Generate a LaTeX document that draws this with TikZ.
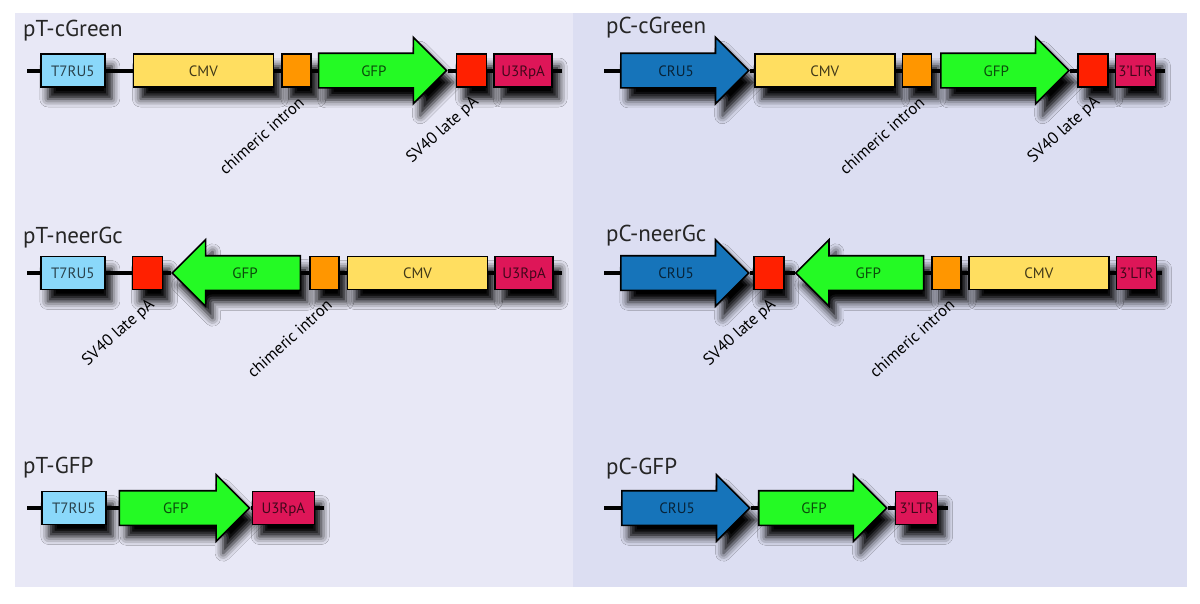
\documentclass[tikz,border=0pt]{standalone}
\usepackage{fontspec}
\setmainfont{PT Sans}
\usetikzlibrary{positioning}
\usetikzlibrary{shapes.arrows}
\usetikzlibrary{shadows.blur}
\definecolor{panelL}{RGB}{232,232,246}
\definecolor{panelR}{RGB}{220,222,242}
\definecolor{t7blue}{RGB}{138,216,250}
\definecolor{cmvyellow}{RGB}{255,222,96}
\definecolor{intronorange}{RGB}{255,150,0}
\definecolor{gfpgreen}{RGB}{36,250,36}
\definecolor{pared}{RGB}{255,32,0}
\definecolor{ltrpink}{RGB}{222,22,88}
\definecolor{crublue}{RGB}{22,116,186}

\begin{document}
\begin{tikzpicture}[x=1pt, y=1pt,
feat/.style={draw=black, line width=1.6pt, inner sep=0pt, text height=11pt, text depth=0pt, font=\fontsize{15}{15}\selectfont, blur shadow={shadow xshift=7pt, shadow yshift=-12pt, shadow blur radius=8pt, shadow opacity=100}},
box/.style={feat, rectangle, minimum height=33pt},
t7box/.style={box, fill=t7blue, text=t7blue!30!black, minimum width=64pt},
cmvbox/.style={box, fill=cmvyellow, text=cmvyellow!25!black, minimum width=140pt},
intronbox/.style={box, fill=intronorange, minimum width=29pt},
pabox/.style={box, fill=pared, minimum width=30pt},
u3box/.style={box, fill=ltrpink, text=ltrpink!30!black, minimum width=58pt},
ltrbox/.style={box, fill=ltrpink, text=ltrpink!30!black, minimum width=40pt},
arrowbox/.style={feat, single arrow, single arrow head extend=16pt, single arrow head indent=0pt, inner ysep=11pt, inner xsep=3pt, minimum height=128pt},
gfparrow/.style={arrowbox, fill=gfpgreen, text=gfpgreen!30!black},
gfpback/.style={gfparrow, shape border rotate=180},
cruarrow/.style={arrowbox, fill=crublue, text=crublue!30!black},
dna/.style={draw=black, line width=4pt},
lbl/.style={inner sep=0pt, font=\fontsize{16.5}{16.5}\selectfont, rotate=42, anchor=east},
ttl/.style={inner sep=0pt, anchor=base west, font=\fontsize{23}{23}\selectfont, text=black!85},
]
\useasboundingbox (0,0) rectangle (1200,-603);
\fill[white] (0,0) rectangle (1200,-603);
\fill[panelL] (15,-13) rectangle (573,-587);
\fill[panelR] (573,-13) rectangle (1187,-587);

\node[ttl](n1) at (23,-36) {pT-cGreen};
\coordinate (s1) at (27,-70.5);
\coordinate (e1) at (562,-70.5);
\node[t7box, anchor=west](t1) at (40,-70.5) {T7RU5};
\node[cmvbox](c1)[right=27pt of t1] {CMV};
\node[intronbox](i1)[right=7pt of c1] {};
\node[gfparrow](g1)[right=6pt of i1, anchor=tail] {GFP};
\node[pabox](p1)[right=8pt of g1.tip] {};
\node[u3box](u1)[right=6pt of p1] {U3RpA};
\node[lbl] (l1a) at ([xshift=5pt, yshift=-12pt]i1.south) {chimeric intron};
\node[lbl] (l1b) at ([xshift=5pt, yshift=-12pt]p1.south) {SV40 late pA};
\foreach \a/\b in {s1/t1.west, t1.east/c1.west, c1.east/i1.west, i1.east/g1.tail, g1.tip/p1.west, p1.east/u1.west, u1.east/e1}
  \draw[dna] (\a) -- (\b);

\node[ttl](n2) at (606,-33) {pC-cGreen};
\coordinate (s2) at (604,-70.5);
\coordinate (e2) at (1165,-70.5);
\node[cruarrow, anchor=tail](r2) at (620,-70.5) {CRU5};
\node[cmvbox](c2)[right=4pt of r2.tip] {CMV};
\node[intronbox](i2)[right=6pt of c2] {};
\node[gfparrow](g2)[right=8pt of i2, anchor=tail] {GFP};
\node[pabox](p2)[right=7pt of g2.tip] {};
\node[ltrbox](u2)[right=6pt of p2] {3'LTR};
\node[lbl] (l2a) at ([xshift=5pt, yshift=-12pt]i2.south) {chimeric intron};
\node[lbl] (l2b) at ([xshift=5pt, yshift=-12pt]p2.south) {SV40 late pA};
\foreach \a/\b in {s2/r2.tail, r2.tip/c2.west, c2.east/i2.west, i2.east/g2.tail, g2.tip/p2.west, p2.east/u2.west, u2.east/e2}
  \draw[dna] (\a) -- (\b);

\node[ttl](n3) at (23,-243) {pT-neerGc};
\coordinate (s3) at (27,-273);
\coordinate (e3) at (562,-273);
\node[t7box, anchor=west](t3) at (40,-273) {T7RU5};
\node[pabox](p3)[right=26pt of t3] {};
\node[gfpback](g3)[right=8pt of p3, anchor=tip] {GFP};
\node[intronbox](i3)[right=8pt of g3.tail] {};
\node[cmvbox](c3)[right=7pt of i3] {CMV};
\node[u3box](u3)[right=6pt of c3] {U3RpA};
\node[lbl] (l3a) at ([xshift=5pt, yshift=-12pt]p3.south) {SV40 late pA};
\node[lbl] (l3b) at ([xshift=5pt, yshift=-12pt]i3.south) {chimeric intron};
\foreach \a/\b in {s3/t3.west, t3.east/p3.west, p3.east/g3.tip, g3.tail/i3.west, i3.east/c3.west, c3.east/u3.west, u3.east/e3}
  \draw[dna] (\a) -- (\b);

\node[ttl](n4) at (606,-241) {pC-neerGc};
\coordinate (s4) at (604,-273);
\coordinate (e4) at (1162,-273);
\node[cruarrow, anchor=tail](r4) at (620,-273) {CRU5};
\node[pabox](p4)[right=3pt of r4.tip] {};
\node[gfpback](g4)[right=10pt of p4, anchor=tip] {GFP};
\node[intronbox](i4)[right=7pt of g4.tail] {};
\node[cmvbox](c4)[right=6pt of i4] {CMV};
\node[ltrbox](u4)[right=6pt of c4] {3'LTR};
\node[lbl] (l4a) at ([xshift=5pt, yshift=-12pt]p4.south) {SV40 late pA};
\node[lbl] (l4b) at ([xshift=5pt, yshift=-12pt]i4.south) {chimeric intron};
\foreach \a/\b in {s4/r4.tail, r4.tip/p4.west, p4.east/g4.tip, g4.tail/i4.west, i4.east/c4.west, c4.east/u4.west, u4.east/e4}
  \draw[dna] (\a) -- (\b);

\node[ttl](n5) at (23,-473) {pT-GFP};
\coordinate (s5) at (27,-508);
\coordinate (e5) at (324,-508);
\node[t7box, anchor=west](t5) at (41,-508) {T7RU5};
\node[gfparrow](g5)[right=12pt of t5, anchor=tail, minimum height=130pt] {GFP};
\node[u3box, minimum width=62pt](u5)[right=1pt of g5.tip] {U3RpA};
\foreach \a/\b in {s5/t5.west, t5.east/g5.tail, g5.tip/u5.west, u5.east/e5}
  \draw[dna] (\a) -- (\b);

\node[ttl](n6) at (606,-474) {pC-GFP};
\coordinate (s6) at (604,-508);
\coordinate (e6) at (948,-508);
\node[cruarrow, anchor=tail](r6) at (621,-508) {CRU5};
\node[gfparrow](g6)[right=7pt of r6.tip, anchor=tail] {GFP};
\node[ltrbox, minimum width=42pt](u6)[right=7pt of g6.tip] {3'LTR};
\foreach \a/\b in {s6/r6.tail, r6.tip/g6.tail, g6.tip/u6.west, u6.east/e6}
  \draw[dna] (\a) -- (\b);
\end{tikzpicture}
\end{document}
